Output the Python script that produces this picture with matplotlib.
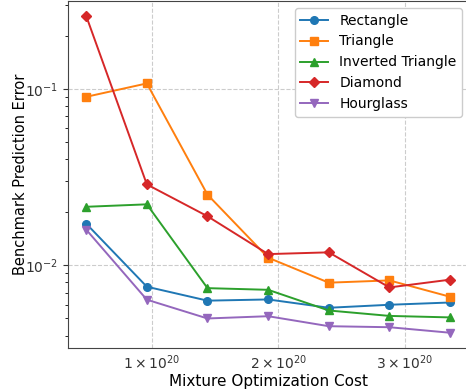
import numpy as np
import matplotlib
matplotlib.use("Agg")
import matplotlib.pyplot as plt
from matplotlib.ticker import FixedLocator, FuncFormatter

# optimization cost (units of 1e20)
cost = [0.48, 0.96, 1.44, 1.92, 2.40, 2.88, 3.36]

rectangle = [0.01725, 0.00757, 0.00631, 0.00641, 0.00575, 0.00598, 0.00616]
triangle = [0.0904, 0.1077, 0.0252, 0.01106, 0.00798, 0.00822, 0.00664]
inv_triangle = [0.0215, 0.0222, 0.00743, 0.00727, 0.00555, 0.00517, 0.00507]
diamond = [0.260, 0.0288, 0.0190, 0.01159, 0.01186, 0.0075, 0.0083]
hourglass = [0.01596, 0.00639, 0.0050, 0.00515, 0.00452, 0.00446, 0.00415]

series = [
    ("Rectangle", rectangle, "#1f77b4", "o"),
    ("Triangle", triangle, "#ff7f0e", "s"),
    ("Inverted Triangle", inv_triangle, "#2ca02c", "^"),
    ("Diamond", diamond, "#d62728", "D"),
    ("Hourglass", hourglass, "#9467bd", "v"),
]

fig = plt.figure(figsize=(4.66, 3.91), dpi=100)
ax = fig.add_axes([68 / 466, 43 / 391, 401 / 466, 347 / 391])

x = np.array(cost) * 1e20
for name, vals, col, mk in series:
    ax.plot(x, vals, marker=mk, color=col, label=name, markersize=5.5, linewidth=1.4)

ax.set_yscale("log")
ax.set_ylim(0.0034, 0.316)
ax.set_xlim(0.336e20, 3.51e20)
ax.xaxis.set_major_locator(FixedLocator([1e20, 2e20, 3e20]))
ax.xaxis.set_major_formatter(FuncFormatter(lambda v, p: r"$%d\times10^{20}$" % round(v / 1e20)))

ax.grid(True, which="major", linestyle="--", color="#cccccc", linewidth=0.8)
ax.tick_params(labelsize=10, colors="#333333")
ax.tick_params(axis="x", length=0, pad=4)
for s in ax.spines.values():
    s.set_color("#444444")
ax.spines["right"].set_visible(False)

ax.set_xlabel("Mixture Optimization Cost", fontsize=11, labelpad=1)
ax.set_ylabel("Benchmark Prediction Error", fontsize=10.5, labelpad=-2)
ax.legend(loc="upper right", fontsize=10, framealpha=1.0, borderaxespad=0.5)

fig.savefig("out.png", dpi=100)
